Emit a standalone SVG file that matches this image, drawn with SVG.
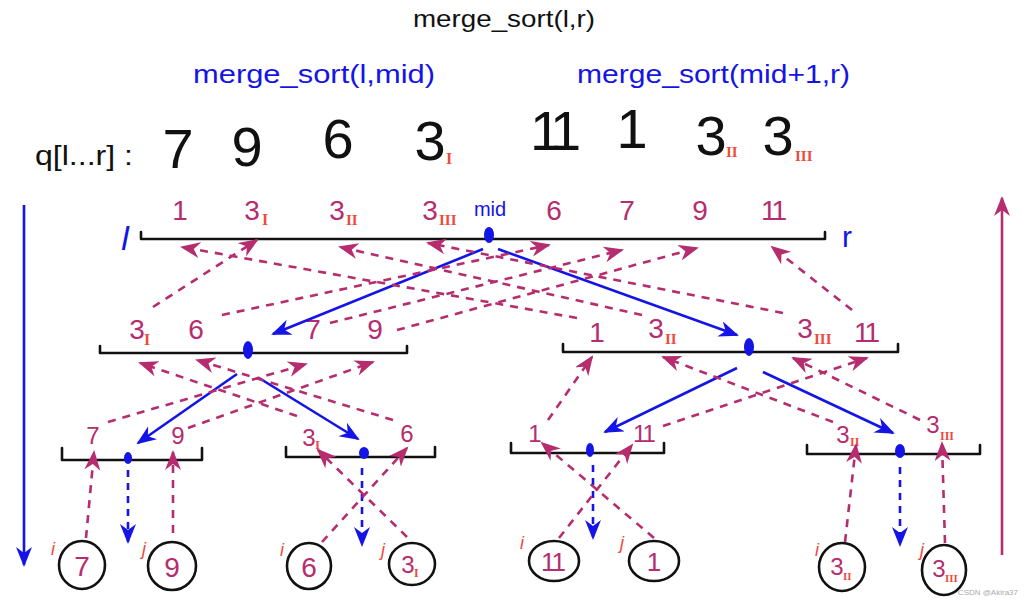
<svg xmlns="http://www.w3.org/2000/svg" width="1024" height="602" viewBox="0 0 1024 602">
<style>
text{font-family:"Liberation Sans","DejaVu Sans",sans-serif}
.k{fill:#111}
.b{fill:#1414e6}
.m{fill:#b52d6e}
.rd{fill:#ef4a3c;font-family:"Liberation Serif",serif;font-weight:bold}
.ij{fill:#ef4a3c;font-size:18px;font-style:italic}
.c{text-anchor:middle}
.seg{stroke:#111;stroke-width:2.6;fill:none;stroke-linecap:round;stroke-linejoin:round}
.dot{fill:#1414e6}
.circ{stroke:#111;stroke-width:2.6;fill:none}
.ds{stroke:#b52d6e;stroke-width:2.6;stroke-dasharray:8 7;fill:none;marker-end:url(#am)}
.bs{stroke:#1414e6;stroke-width:2.6;fill:none;marker-end:url(#ab)}
.bd{stroke:#1414e6;stroke-width:2.6;stroke-dasharray:7 6;fill:none;marker-end:url(#ab)}
.big{font-size:56px}
.l0{font-size:28px}
.l2{font-size:24px}
</style>
<defs>
<marker id="am" markerUnits="userSpaceOnUse" markerWidth="22" markerHeight="18" refX="18" refY="8" orient="auto">
<path d="M0,0 L20,8 L0,16 L6,8 z" fill="#b52d6e"/>
</marker>
<marker id="ab" markerUnits="userSpaceOnUse" markerWidth="22" markerHeight="18" refX="18" refY="8" orient="auto">
<path d="M0,0 L20,8 L0,16 L6,8 z" fill="#1414e6"/>
</marker>
</defs>
<rect width="1024" height="602" fill="#fff"/>

<g id="titles">
<text x="413" y="27" class="k" font-size="24" textLength="182" lengthAdjust="spacingAndGlyphs">merge_sort(l,r)</text>
<text x="193" y="83" class="b" font-size="26" textLength="242" lengthAdjust="spacingAndGlyphs">merge_sort(l,mid)</text>
<text x="577" y="83" class="b" font-size="26" textLength="273" lengthAdjust="spacingAndGlyphs">merge_sort(mid+1,r)</text>
</g>

<g id="array">
<text x="35" y="165" class="k" font-size="28" textLength="98" lengthAdjust="spacingAndGlyphs">q[l...r] :</text>
<text x="178" y="168" class="k big c">7</text>
<text x="247" y="166" class="k big c">9</text>
<text x="338" y="158" class="k big c">6</text>
<text x="430" y="160" class="k big c">3</text><text x="446" y="164" class="rd" font-size="16">I</text>
<text x="530" y="150" class="k big" letter-spacing="-7">11</text>
<text x="632" y="148" class="k big c">1</text>
<text x="711" y="155" class="k big c">3</text><text x="726" y="157" class="rd" font-size="15">II</text>
<text x="778" y="155" class="k big c">3</text><text x="795" y="161" class="rd" font-size="15">III</text>
</g>

<g id="level0">
<path class="seg" d="M141,232 V239 H825 V232"/>
<ellipse class="dot" cx="489" cy="235" rx="5" ry="8"/>
<text x="125" y="250" class="b" font-size="34" font-style="italic" text-anchor="middle">l</text>
<text x="847" y="247" class="b" font-size="30" text-anchor="middle">r</text>
<text x="490" y="216" class="b c" font-size="20">mid</text>
<text x="180" y="220" class="m l0 c">1</text>
<text x="252" y="220" class="m l0 c">3</text><text x="262" y="225" class="rd" font-size="16">I</text>
<text x="337" y="220" class="m l0 c">3</text><text x="346" y="225" class="rd" font-size="15">II</text>
<text x="430" y="220" class="m l0 c">3</text><text x="439" y="225" class="rd" font-size="15">III</text>
<text x="554" y="220" class="m l0 c">6</text>
<text x="627" y="220" class="m l0 c">7</text>
<text x="700" y="220" class="m l0 c">9</text>
<text x="761" y="220" class="m l0" letter-spacing="-3">11</text>
</g>

<g id="level1-left">
<path class="seg" d="M100,346 V353 H407 V346"/>
<ellipse class="dot" cx="248" cy="350" rx="5" ry="9"/>
<text x="137" y="339" class="m l0 c">3</text><text x="144" y="345" class="rd" font-size="16">I</text>
<text x="196" y="339" class="m l0 c">6</text>
<text x="313" y="339" class="m l0 c">7</text>
<text x="375" y="339" class="m l0 c">9</text>
</g>

<g id="level1-right">
<path class="seg" d="M563,344 V352 H898 V344"/>
<ellipse class="dot" cx="749" cy="347" rx="5" ry="9"/>
<text x="597" y="342" class="m l0 c">1</text>
<text x="656" y="338" class="m l0 c">3</text><text x="665" y="344" class="rd" font-size="15">II</text>
<text x="805" y="338" class="m l0 c">3</text><text x="814" y="344" class="rd" font-size="15">III</text>
<text x="854" y="342" class="m l0" letter-spacing="-3">11</text>
</g>

<g id="level2-a">
<path class="seg" d="M62,448 V460 H202 V448"/>
<ellipse class="dot" cx="128" cy="458" rx="4" ry="6"/>
<text x="93" y="444" class="m l2 c">7</text>
<text x="178" y="444" class="m l2 c">9</text>
</g>
<g id="level2-b">
<path class="seg" d="M286,447 V457 H435 V447"/>
<ellipse class="dot" cx="364" cy="453" rx="5" ry="6"/>
<text x="309" y="446" class="m l2 c">3</text><text x="315" y="449" class="rd" font-size="13">I</text>
<text x="407" y="442" class="m l2 c">6</text>
</g>
<g id="level2-c">
<path class="seg" d="M511,443 V453 H664 V443"/>
<ellipse class="dot" cx="590" cy="450" rx="4" ry="7"/>
<text x="535" y="442" class="m l2 c">1</text>
<text x="633" y="442" class="m l2" letter-spacing="-2">11</text>
</g>
<g id="level2-d">
<path class="seg" d="M807,445 V454 H980 V445"/>
<ellipse class="dot" cx="900" cy="451" rx="5" ry="7"/>
<text x="843" y="443" class="m l2 c">3</text><text x="850" y="446" class="rd" font-size="12">II</text>
<text x="933" y="433" class="m l2 c">3</text><text x="940" y="440" class="rd" font-size="12">III</text>
</g>

<g id="leaf-7">
<ellipse class="circ" cx="82" cy="565" rx="23" ry="24"/>
<text x="82" y="576" class="m c" font-size="28">7</text>
<text x="53" y="555" class="ij c">i</text>
</g>
<g id="leaf-9">
<ellipse class="circ" cx="172" cy="566" rx="24" ry="24"/>
<text x="172" y="577" class="m c" font-size="28">9</text>
<text x="144" y="555" class="ij c">j</text>
</g>
<g id="leaf-6">
<ellipse class="circ" cx="309" cy="566" rx="22" ry="23"/>
<text x="309" y="577" class="m c" font-size="28">6</text>
<text x="282" y="556" class="ij c">i</text>
</g>
<g id="leaf-3I">
<ellipse class="circ" cx="412" cy="564" rx="23" ry="21"/>
<text x="408" y="573" class="m c" font-size="24">3</text><text x="414" y="577" class="rd" font-size="12">I</text>
<text x="383" y="556" class="ij c">j</text>
</g>
<g id="leaf-11">
<ellipse class="circ" cx="554" cy="561" rx="25" ry="20"/>
<text x="541" y="571" class="m" font-size="26" letter-spacing="-2">11</text>
<text x="522" y="549" class="ij c">i</text>
</g>
<g id="leaf-1">
<ellipse class="circ" cx="654" cy="561" rx="25" ry="20"/>
<text x="654" y="571" class="m c" font-size="26">1</text>
<text x="622" y="549" class="ij c">j</text>
</g>
<g id="leaf-3II">
<ellipse class="circ" cx="842" cy="567" rx="23" ry="24"/>
<text x="837" y="575" class="m c" font-size="24">3</text><text x="843" y="580" class="rd" font-size="11">II</text>
<text x="817" y="556" class="ij c">i</text>
</g>
<g id="leaf-3III">
<ellipse class="circ" cx="944" cy="570" rx="22" ry="25"/>
<text x="939" y="577" class="m c" font-size="24">3</text><text x="945" y="582" class="rd" font-size="11">III</text>
<text x="922" y="556" class="ij c">j</text>
</g>

<g id="connectors">
<line class="bs" x1="24" y1="205" x2="24" y2="565"/>
<line class="ds" style="stroke-dasharray:none" x1="1002" y1="555" x2="1002" y2="198"/>
<line class="bs" x1="483" y1="249" x2="273" y2="334"/>
<line class="bs" x1="498" y1="249" x2="737" y2="335"/>
<line class="bs" x1="237" y1="374" x2="138" y2="443"/>
<line class="bs" x1="259" y1="378" x2="358" y2="439"/>
<line class="bs" x1="737" y1="368" x2="605" y2="432"/>
<line class="bs" x1="763" y1="372" x2="893" y2="433"/>
<line class="bd" x1="128" y1="470" x2="128" y2="542"/>
<line class="bd" x1="362" y1="468" x2="362" y2="545"/>
<line class="bd" x1="593" y1="465" x2="593" y2="538"/>
<line class="bd" x1="900" y1="467" x2="900" y2="545"/>
<line class="ds" x1="86" y1="538" x2="94" y2="452"/>
<line class="ds" x1="173" y1="533" x2="173" y2="452"/>
<line class="ds" x1="322" y1="542" x2="407" y2="448"/>
<line class="ds" x1="407" y1="537" x2="318" y2="450"/>
<line class="ds" x1="559" y1="538" x2="632" y2="445"/>
<line class="ds" x1="654" y1="538" x2="542" y2="443"/>
<line class="ds" x1="845" y1="542" x2="856" y2="445"/>
<line class="ds" x1="945" y1="543" x2="942" y2="443"/>
<line class="ds" x1="108" y1="422" x2="306" y2="364"/>
<line class="ds" x1="188" y1="428" x2="373" y2="362"/>
<line class="ds" x1="297" y1="416" x2="140" y2="363"/>
<line class="ds" x1="393" y1="420" x2="197" y2="360"/>
<line class="ds" x1="548" y1="420" x2="592" y2="357"/>
<line class="ds" x1="663" y1="426" x2="867" y2="358"/>
<line class="ds" x1="833" y1="422" x2="663" y2="357"/>
<line class="ds" x1="920" y1="420" x2="793" y2="358"/>
<line class="ds" x1="153" y1="307" x2="257" y2="240"/>
<line class="ds" x1="222" y1="315" x2="549" y2="245"/>
<line class="ds" x1="330" y1="323" x2="622" y2="250"/>
<line class="ds" x1="397" y1="330" x2="697" y2="248"/>
<line class="ds" x1="577" y1="318" x2="182" y2="247"/>
<line class="ds" x1="642" y1="315" x2="340" y2="247"/>
<line class="ds" x1="783" y1="313" x2="428" y2="243"/>
<line class="ds" x1="852" y1="310" x2="772" y2="247"/>
</g>

<text x="1018" y="595" fill="#aaa" font-size="8" text-anchor="end">CSDN @Akira37</text>
</svg>
